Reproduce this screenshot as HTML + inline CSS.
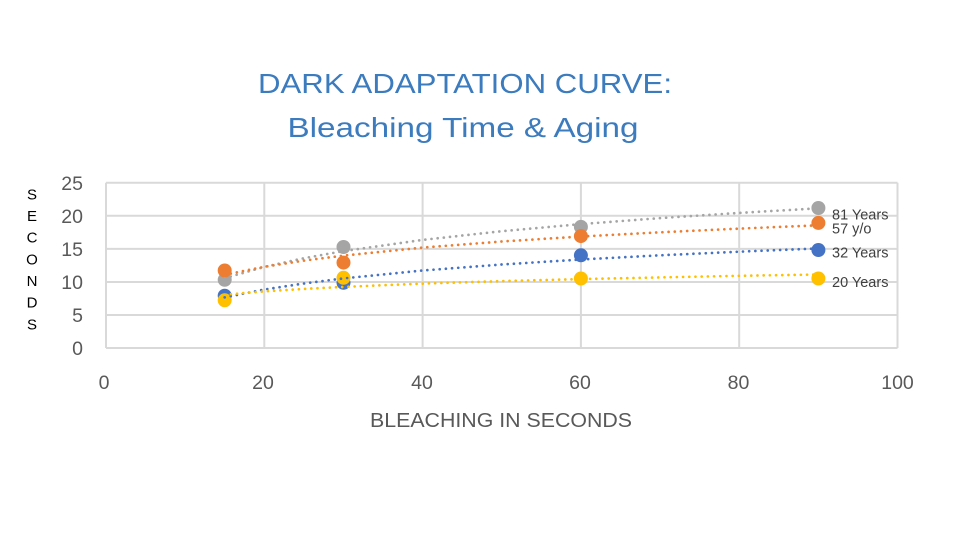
<!DOCTYPE html>
<html><head><meta charset="utf-8"><style>
html,body{margin:0;padding:0;background:#fff;}
svg{display:block;}
</style></head><body>
<svg width="960" height="540" viewBox="0 0 960 540" xmlns="http://www.w3.org/2000/svg" font-family="Liberation Sans, sans-serif">
<rect width="960" height="540" fill="#fff"/>
<!-- title -->
<text x="465" y="93" text-anchor="middle" font-size="28" fill="#3B7BBE" textLength="414" lengthAdjust="spacingAndGlyphs">DARK  ADAPTATION CURVE:</text>
<text x="463" y="137" text-anchor="middle" font-size="28" fill="#3B7BBE" textLength="351" lengthAdjust="spacingAndGlyphs">Bleaching Time &amp; Aging</text>
<!-- grid -->
<g stroke="#D9D9D9" stroke-width="2" fill="none">
<line x1="106" y1="182.7" x2="897.5" y2="182.7"/>
<line x1="106" y1="215.8" x2="897.5" y2="215.8"/>
<line x1="106" y1="248.9" x2="897.5" y2="248.9"/>
<line x1="106" y1="282" x2="897.5" y2="282"/>
<line x1="106" y1="315" x2="897.5" y2="315"/>
<line x1="106" y1="348" x2="897.5" y2="348"/>
<line x1="106" y1="182.7" x2="106" y2="348"/>
<line x1="264.3" y1="182.7" x2="264.3" y2="348"/>
<line x1="422.6" y1="182.7" x2="422.6" y2="348"/>
<line x1="580.9" y1="182.7" x2="580.9" y2="348"/>
<line x1="739.2" y1="182.7" x2="739.2" y2="348"/>
<line x1="897.5" y1="182.7" x2="897.5" y2="348"/>
</g>
<!-- y tick labels -->
<g font-size="19.5" fill="#595959" text-anchor="end">
<text x="83" y="190">25</text>
<text x="83" y="223">20</text>
<text x="83" y="256">15</text>
<text x="83" y="289">10</text>
<text x="83" y="322">5</text>
<text x="83" y="355">0</text>
</g>
<!-- x tick labels -->
<g font-size="19.5" fill="#595959" text-anchor="middle">
<text x="104" y="389">0</text>
<text x="263" y="389">20</text>
<text x="422" y="389">40</text>
<text x="580" y="389">60</text>
<text x="738.5" y="389">80</text>
<text x="897.5" y="389">100</text>
</g>
<text x="501" y="427" text-anchor="middle" font-size="20" fill="#595959" textLength="262" lengthAdjust="spacingAndGlyphs">BLEACHING IN SECONDS</text>
<!-- vertical axis title -->
<g font-size="15" fill="#000" text-anchor="middle">
<text x="32" y="199.5">S</text>
<text x="32" y="221">E</text>
<text x="32" y="242.7">C</text>
<text x="32" y="264.4">O</text>
<text x="32" y="286">N</text>
<text x="32" y="307.7">D</text>
<text x="32" y="329.4">S</text>
</g>
<!-- markers -->
<g>
<circle cx="224.7" cy="279.8" r="7" fill="#A5A5A5"/>
<circle cx="343.5" cy="247" r="7" fill="#A5A5A5"/>
<circle cx="580.9" cy="226.9" r="7" fill="#A5A5A5"/>
<circle cx="818.4" cy="208" r="7" fill="#A5A5A5"/>
<circle cx="224.7" cy="270.5" r="7" fill="#ED7D31"/>
<circle cx="343.5" cy="262.6" r="7" fill="#ED7D31"/>
<circle cx="580.9" cy="236.1" r="7" fill="#ED7D31"/>
<circle cx="818.4" cy="222.9" r="7" fill="#ED7D31"/>
<circle cx="224.7" cy="295.7" r="7" fill="#4472C4"/>
<circle cx="343.5" cy="282.8" r="7" fill="#4472C4"/>
<circle cx="580.9" cy="255.3" r="7" fill="#4472C4"/>
<circle cx="818.4" cy="250" r="7" fill="#4472C4"/>
<circle cx="224.7" cy="300.3" r="7" fill="#FFC000"/>
<circle cx="343.5" cy="277.8" r="7" fill="#FFC000"/>
<circle cx="580.9" cy="278.5" r="7" fill="#FFC000"/>
<circle cx="818.4" cy="278.5" r="7" fill="#FFC000"/>
</g>
<!-- trendlines -->
<g fill="none" stroke-width="2.7" stroke-linecap="round" stroke-dasharray="0 6.2">
<polyline stroke="#A5A5A5" points="224.7,278.2 264.3,266.9 303.9,258.2 343.5,251.1 422.6,239.9 501.8,231.2 580.9,224.1 660.1,218.1 739.2,212.9 818.4,208.3"/>
<polyline stroke="#ED7D31" points="224.7,274.8 264.3,266.8 303.9,260.6 343.5,255.6 422.6,247.6 501.8,241.5 580.9,236.5 660.1,232.3 739.2,228.6 818.4,225.3"/>
<polyline stroke="#4472C4" points="224.7,297.4 264.3,289.5 303.9,283.5 343.5,278.4 422.6,270.5 501.8,264.5 580.9,259.5 660.1,255.3 739.2,251.7 818.4,248.4"/>
<polyline stroke="#FFC000" points="224.7,294.7 264.3,291.4 303.9,288.9 343.5,286.9 422.6,283.6 501.8,281.1 580.9,279.1 660.1,277.4 739.2,275.8 818.4,274.5"/>
</g>
<!-- series labels -->
<g font-size="14.5" fill="#404040">
<text x="832" y="219.5">81 Years</text>
<text x="832" y="233.5">57 y/o</text>
<text x="832" y="257.5">32 Years</text>
<text x="832" y="287">20 Years</text>
</g>
</svg>
</body></html>
